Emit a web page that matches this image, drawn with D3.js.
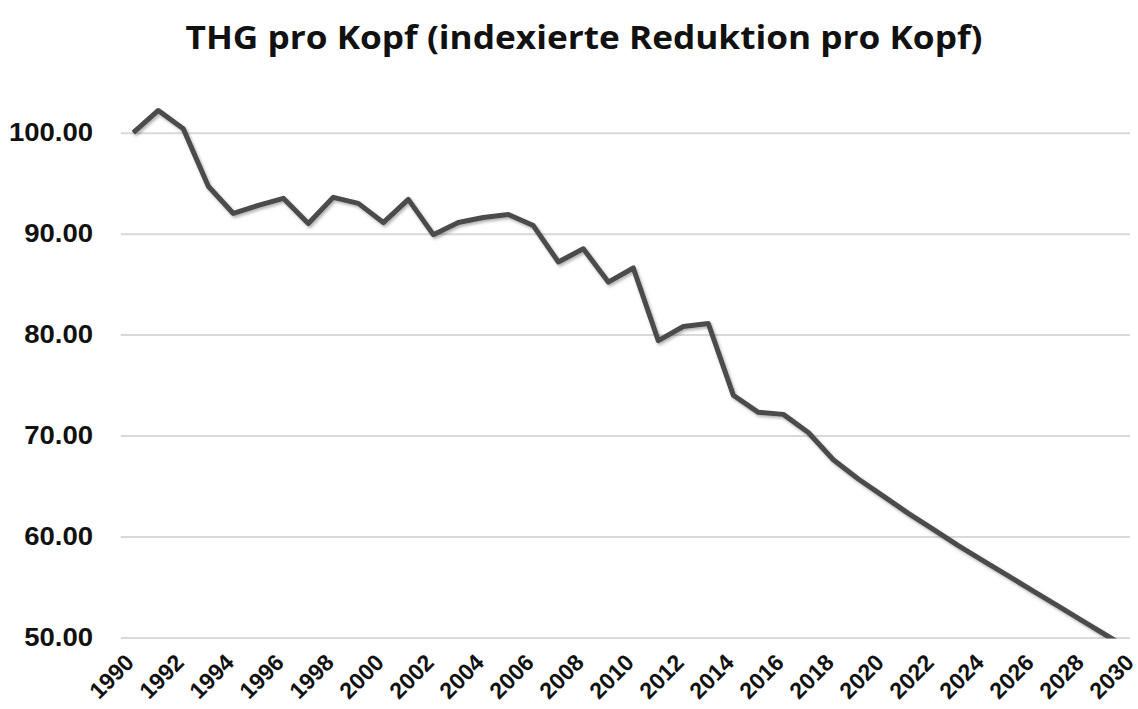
<!DOCTYPE html>
<html lang="de">
<head>
  <meta charset="utf-8">
  <title>THG pro Kopf</title>
  <script src="https://cdnjs.cloudflare.com/ajax/libs/d3/7.8.5/d3.min.js"></script>
  <style>
    body { margin: 0; background: #fff; }
    svg { display: block; }
    .grid line { stroke: #d9d9d9; stroke-width: 2; }
    .grid path { display: none; }
    .ylab text, .xlab text { font-family: "Liberation Sans", Arial, sans-serif; font-weight: bold; fill: #111; }
    .line { fill: none; stroke: #4b4b4b; stroke-width: 5; stroke-linejoin: round; }
  </style>
</head>
<body>
<svg id="chart" width="1138" height="709"></svg>
<script>
// years on the category axis
var years = d3.range(1990, 2031);
// indexed greenhouse gas per capita (1990 = 100)
var values = [
  100.0, 102.2, 100.4, 94.7, 92.0, 92.8, 93.5, 91.0, 93.6, 93.0,
  91.1, 93.4, 89.9, 91.1, 91.6, 91.9, 90.8, 87.2, 88.5, 85.2,
  86.6, 79.4, 80.8, 81.1, 74.0, 72.3, 72.1, 70.3, 67.6, 65.7,
  64.0, 62.3, 60.7, 59.1, 57.6, 56.1, 54.6, 53.1, 51.6, 50.1,
  48.6
];
var yTicks = [50, 60, 70, 80, 90, 100];
var xTicks = years.filter(function (y) { return y % 2 === 0; });
var title = "THG pro Kopf (indexierte Reduktion pro Kopf)";

var svg = d3.select("#chart");
var left = 120.8, right = 1145.8, bottom = 637.5;

var x = d3.scaleBand().domain(years).range([left, right]);
var y = d3.scaleLinear().domain([50, 100]).range([bottom, 132.7]);

// gridlines + y labels
var grid = svg.append("g")
  .attr("class", "grid")
  .attr("transform", "translate(" + left + ",0)")
  .call(d3.axisLeft(y).tickValues(yTicks).tickSize(-(1130 - left)).tickFormat(""));

var ylab = svg.append("g").attr("class", "ylab");
ylab.selectAll("text")
  .data(yTicks)
  .enter().append("text")
  .attr("transform", function (d) { return "translate(93," + y(d) + ") scale(1.1,1)"; })
  .attr("dy", "0.35em")
  .attr("text-anchor", "end")
  .style("font-size", "25px")
  .text(d3.format(".2f"));

// x labels, rotated like the spreadsheet
var xlab = svg.append("g").attr("class", "xlab");
xlab.selectAll("text")
  .data(xTicks)
  .enter().append("text")
  .attr("transform", function (d) {
    return "translate(" + (x(d) + x.bandwidth() / 2 + 2) + ",664) rotate(-45)";
  })
  .attr("text-anchor", "end")
  .style("font-size", "23px")
  .text(function (d) { return d; });

// line (clipped at the axis minimum)
var defs = svg.append("defs");
defs.append("clipPath").attr("id", "plotclip")
  .append("rect").attr("x", 0).attr("y", 0).attr("width", 1138).attr("height", bottom + 1);
var shadow = defs.append("filter").attr("id", "shadow")
  .attr("x", "-5%").attr("y", "-5%").attr("width", "110%").attr("height", "110%");
shadow.append("feDropShadow")
  .attr("dx", 1.5).attr("dy", 2).attr("stdDeviation", 1.5)
  .attr("flood-color", "#000").attr("flood-opacity", 0.3);

var line = d3.line()
  .x(function (d, i) { return x(years[i]) + x.bandwidth() / 2; })
  .y(function (d) { return y(d); });

svg.append("g").attr("clip-path", "url(#plotclip)")
  .append("path")
  .datum(values)
  .attr("class", "line")
  .attr("filter", "url(#shadow)")
  .attr("d", line);

// title
svg.append("text")
  .attr("x", 584)
  .attr("y", 49)
  .attr("text-anchor", "middle")
  .attr("textLength", 797)
  .attr("lengthAdjust", "spacingAndGlyphs")
  .style("font-family", "'Open Sans', 'Noto Sans', sans-serif")
  .style("font-weight", "bold")
  .style("font-size", "33px")
  .style("fill", "#111")
  .text(title);
</script>
</body>
</html>
